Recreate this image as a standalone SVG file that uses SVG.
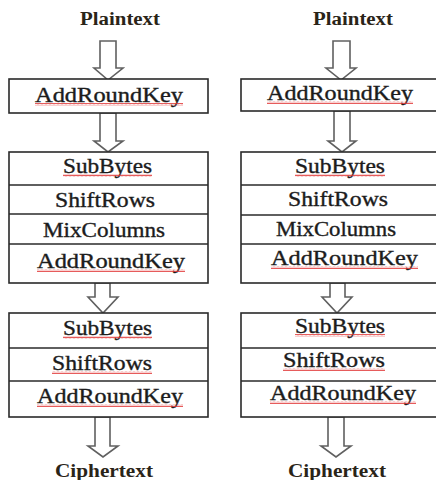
<svg xmlns="http://www.w3.org/2000/svg" width="436" height="480" viewBox="0 0 436 480">
<defs>
<style>
.box{fill:#fff;stroke:#2a2a2a;stroke-width:1.6}
.div{stroke:#2a2a2a;stroke-width:1.4}
.arr{fill:#fff;stroke:#606060;stroke-width:1.6;stroke-linejoin:miter}
.t{font-family:"Liberation Serif","Times New Roman",serif;font-size:20px;fill:#1c1c1c;stroke:#1c1c1c;stroke-width:0.35}
.h{font-family:"Liberation Serif","Times New Roman",serif;font-size:18px;font-weight:bold;fill:#2a2418}
.w{fill:url(#wave)}
</style>
<pattern id="wave" x="0" y="0" width="4" height="3" patternUnits="userSpaceOnUse">
<path d="M0,2.3 L1,0.7 L2,2.3 L3,0.7 L4,2.3" fill="none" stroke="#e03030" stroke-width="0.8"/>
</pattern>
</defs>
<rect width="436" height="480" fill="#fff"/>

<g id="connectors">
<path class="arr" d="M100,41 H116 V68 H123 L108,80 L94,68 H100 Z"/>
<path class="arr" d="M100,113 H116 V141 H123 L108,152 L94,141 H100 Z"/>
<path class="arr" d="M95,283 H110 V297 H118 L103,313 L88,297 H95 Z"/>
<path class="arr" d="M95,417 H110 V446 H118 L103,457 L88,446 H95 Z"/>
<path class="arr" d="M333,41 H350 V68 H356 L341,80 L326,68 H333 Z"/>
<path class="arr" d="M334,111 H350 V141 H356 L342,152 L328,141 H334 Z"/>
<path class="arr" d="M330,283 H345 V297 H352 L337,313 L322,297 H330 Z"/>
<path class="arr" d="M328,417 H344 V446 H351 L336,457 L321,446 H328 Z"/>
</g>

<g id="plaintext-left"><text class="h" x="80" y="25" textLength="80" lengthAdjust="spacingAndGlyphs">Plaintext</text></g>
<g id="plaintext-right"><text class="h" x="313" y="25" textLength="80" lengthAdjust="spacingAndGlyphs">Plaintext</text></g>

<g id="addroundkey-initial-left">
<rect class="box" x="9" y="79" width="199" height="34"/>
<text class="t" x="35" y="102" textLength="148" lengthAdjust="spacingAndGlyphs">AddRoundKey</text>
<rect class="w" x="35" y="103" width="148" height="3"/>
</g>
<g id="addroundkey-initial-right">
<rect class="box" x="241" y="79" width="200" height="32"/>
<text class="t" x="267" y="100" textLength="146" lengthAdjust="spacingAndGlyphs">AddRoundKey</text>
<rect class="w" x="267" y="101" width="146" height="3"/>
</g>

<g id="round-left">
<rect class="box" x="9" y="152" width="199" height="131"/>
<line class="div" x1="9" y1="185" x2="208" y2="185"/>
<line class="div" x1="9" y1="214" x2="208" y2="214"/>
<line class="div" x1="9" y1="244" x2="208" y2="244"/>
<text class="t" x="63" y="173" textLength="89" lengthAdjust="spacingAndGlyphs">SubBytes</text>
<rect class="w" x="63" y="174" width="89" height="3"/>
<text class="t" x="55" y="207" textLength="100" lengthAdjust="spacingAndGlyphs">ShiftRows</text>
<text class="t" x="43" y="237" textLength="122" lengthAdjust="spacingAndGlyphs">MixColumns</text>
<text class="t" x="37" y="268" textLength="148" lengthAdjust="spacingAndGlyphs">AddRoundKey</text>
<rect class="w" x="37" y="269" width="148" height="3"/>
</g>
<g id="round-right">
<rect class="box" x="241" y="152" width="200" height="131"/>
<line class="div" x1="241" y1="185" x2="441" y2="185"/>
<line class="div" x1="241" y1="215" x2="441" y2="215"/>
<line class="div" x1="241" y1="244" x2="441" y2="244"/>
<text class="t" x="295" y="173" textLength="90" lengthAdjust="spacingAndGlyphs">SubBytes</text>
<rect class="w" x="295" y="174" width="90" height="3"/>
<text class="t" x="288" y="206" textLength="100" lengthAdjust="spacingAndGlyphs">ShiftRows</text>
<text class="t" x="276" y="236" textLength="120" lengthAdjust="spacingAndGlyphs">MixColumns</text>
<text class="t" x="271" y="265" textLength="147" lengthAdjust="spacingAndGlyphs">AddRoundKey</text>
<rect class="w" x="271" y="266" width="147" height="3"/>
</g>

<g id="final-round-left">
<rect class="box" x="9" y="313" width="199" height="104"/>
<line class="div" x1="9" y1="348" x2="208" y2="348"/>
<line class="div" x1="9" y1="381" x2="208" y2="381"/>
<text class="t" x="63" y="335" textLength="89" lengthAdjust="spacingAndGlyphs">SubBytes</text>
<rect class="w" x="63" y="336" width="89" height="3"/>
<text class="t" x="52" y="370" textLength="100" lengthAdjust="spacingAndGlyphs">ShiftRows</text>
<rect class="w" x="52" y="371" width="100" height="3"/>
<text class="t" x="37" y="403" textLength="146" lengthAdjust="spacingAndGlyphs">AddRoundKey</text>
<rect class="w" x="37" y="404" width="146" height="3"/>
</g>
<g id="final-round-right">
<rect class="box" x="241" y="313" width="200" height="104"/>
<line class="div" x1="241" y1="348" x2="441" y2="348"/>
<line class="div" x1="241" y1="381" x2="441" y2="381"/>
<text class="t" x="295" y="333" textLength="90" lengthAdjust="spacingAndGlyphs">SubBytes</text>
<rect class="w" x="295" y="334" width="90" height="3"/>
<text class="t" x="283" y="367" textLength="102" lengthAdjust="spacingAndGlyphs">ShiftRows</text>
<rect class="w" x="283" y="368" width="102" height="3"/>
<text class="t" x="270" y="400" textLength="146" lengthAdjust="spacingAndGlyphs">AddRoundKey</text>
<rect class="w" x="270" y="401" width="146" height="3"/>
</g>

<g id="ciphertext-left"><text class="h" x="55" y="477" textLength="98" lengthAdjust="spacingAndGlyphs">Ciphertext</text></g>
<g id="ciphertext-right"><text class="h" x="288" y="477" textLength="98" lengthAdjust="spacingAndGlyphs">Ciphertext</text></g>
</svg>
